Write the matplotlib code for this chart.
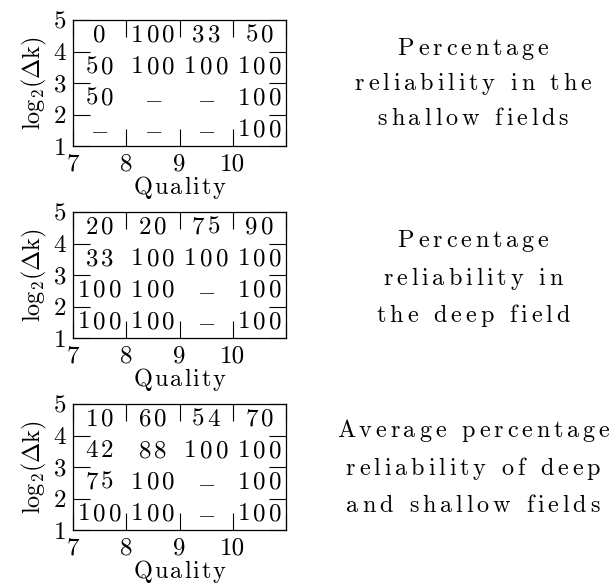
import matplotlib
matplotlib.use('Agg')
import matplotlib.pyplot as plt
from matplotlib.font_manager import FontProperties, findfont, get_font
from matplotlib.transforms import IdentityTransform

# cell centres and table values (None = no data, shown as a dash)
quality = [7.5, 8.5, 9.5, 10.5]
logdk = [4.5, 3.5, 2.5, 1.5]

shallow = [[0, 100, 33, 50],
           [50, 100, 100, 100],
           [50, None, None, 100],
           [None, None, None, 100]]
deep = [[20, 20, 75, 90],
        [33, 100, 100, 100],
        [100, 100, None, 100],
        [100, 100, None, 100]]
average = [[10, 60, 54, 70],
           [42, 88, 100, 100],
           [75, 100, None, 100],
           [100, 100, None, 100]]

captions = ["Percentage\nreliability in the\nshallow fields",
            "Percentage\nreliability in\nthe deep field",
            "Average percentage\nreliability of deep\nand shallow fields"]

xtick_labels = ['7', '8', '9', '10', '']
ytick_labels = ['1', '2', '3', '4', '5']

DPI = 100
W, H = 611, 585

plt.rcParams['font.family'] = 'serif'
plt.rcParams['font.serif'] = ['cmr10']
plt.rcParams['mathtext.fontset'] = 'cm'
plt.rcParams['axes.unicode_minus'] = False
plt.rcParams['axes.formatter.use_mathtext'] = True

fig = plt.figure(figsize=(W / DPI, H / DPI), dpi=DPI)


def spaced(x, y, s, size, track, va='baseline'):
    # draw s centred on x (display px) with extra letter spacing
    fp = FontProperties(family='serif', size=size)
    font = get_font(findfont(fp))
    font.set_size(size, DPI)
    em = size * DPI / 72.
    advs = []
    for c in s:
        if c == ' ':
            advs.append(0.333 * em)
        else:
            advs.append(font.load_char(ord(c)).linearHoriAdvance / 65536.)
    total = sum(advs) + track * (len(s) - 1)
    x0 = x - total / 2.
    for c, a in zip(s, advs):
        if c != ' ':
            fig.text(x0, y, c, fontproperties=fp, transform=IdentityTransform(),
                     ha='left', va=va)
        x0 += a + track


bottoms = [0.7504, 0.4222, 0.0940]
cap_base = [[55, 90, 125], [247, 285, 322], [437, 475, 512]]
cap_x = 473

for tab, cap, b, cb in zip([shallow, deep, average], captions, bottoms, cap_base):
    ax = fig.add_axes([0.1195, b, 0.3486, 0.2154])
    ax.set_xlim(7, 11)
    ax.set_ylim(1, 5)
    ax.set_xticks([7, 8, 9, 10, 11])
    ax.set_xticklabels(xtick_labels)
    ax.set_yticks([1, 2, 3, 4, 5])
    ax.set_yticklabels(ytick_labels)
    ax.tick_params(direction='in', top=True, right=True, length=12, width=0.8,
                   labelsize=18, pad=5)
    for s in ax.spines.values():
        s.set_linewidth(0.9)
    ax.set_ylabel(r'$\mathrm{log_2(\Delta k)}$', fontsize=17.5, labelpad=3)

    # x label with wide letter spacing, baseline 48 px under the axes
    ax_bottom = b * H
    ax_mid = (0.1195 + 0.3486 / 2) * W
    spaced(ax_mid, ax_bottom - 48, 'Quality', 17.5, 2.0)

    for i, row in enumerate(tab):
        for j, v in enumerate(row):
            if v is None:
                ax.text(quality[j], logdk[i], r'$-$', ha='center', va='center', fontsize=17)
            else:
                px, py = ax.transData.transform((quality[j], logdk[i]))
                spaced(px, py, str(v), 18, 3.2, va='center')

    for line, yb in zip(cap.split('\n'), cb):
        spaced(cap_x, H - yb, line, 17.5, 3.8)

fig.savefig('out.png', dpi=DPI)
